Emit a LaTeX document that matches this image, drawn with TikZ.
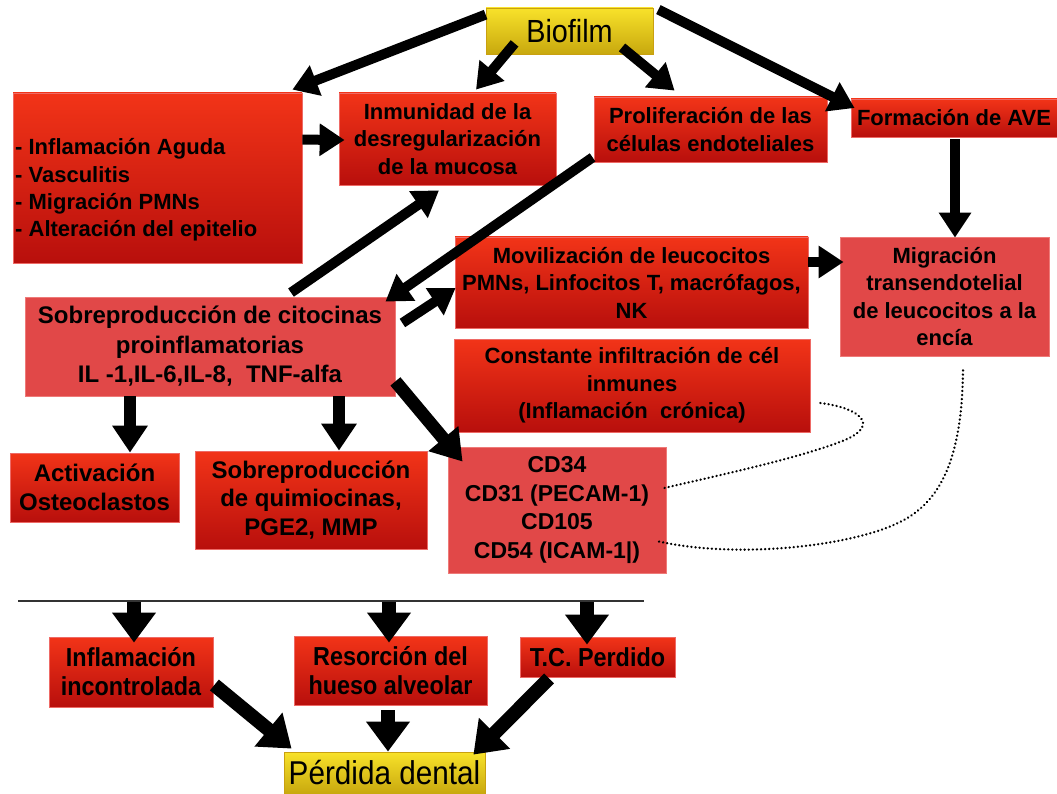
\documentclass[tikz,border=0pt]{standalone}
\usepackage{fontspec}
\setmainfont{Liberation Sans}
\newfontfamily\narrowfont[FakeStretch=0.9]{Liberation Sans}
\usetikzlibrary{arrows.meta,calc}
\definecolor{rtop}{HTML}{F23418}
\definecolor{rbot}{HTML}{B80F0C}
\definecolor{rline}{HTML}{EE6A66}
\definecolor{lred}{HTML}{E14848}
\definecolor{lline}{HTML}{EE7A78}
\definecolor{ytop}{HTML}{F8E22A}
\definecolor{ybot}{HTML}{C8A80E}
\definecolor{yline}{HTML}{C9A010}
\tikzset{
  redbox/.style={draw=rline, line width=0.8pt, top color=rtop, bottom color=rbot, inner sep=0pt, align=center, font=\bfseries\fontsize{22}{27.5}\selectfont},
  lightbox/.style={draw=lline, line width=0.8pt, fill=lred, inner sep=0pt, align=center, font=\bfseries\fontsize{22}{27.5}\selectfont},
  ybox/.style={draw=yline, line width=0.8pt, top color=ytop, bottom color=ybot, inner sep=0pt, align=center, font=\narrowfont\fontsize{32}{36}\selectfont},
  lowbox/.style={redbox, font=\narrowfont\bfseries\fontsize{26}{29}\selectfont},
  arr/.style={line width=10pt, -{Triangle[length=25pt,width=31pt]}},
  arrv/.style={line width=11.5pt, -{Triangle[length=27pt,width=34pt]}},
  arrbig/.style={line width=13pt, -{Triangle[length=30pt,width=37pt]}},
  arrb/.style={line width=14pt, -{Triangle[length=30pt,width=42pt]}},
  dots/.style={line width=2.5pt, line cap=round, dash pattern=on 0.1pt off 4pt, black}
}
\begin{document}
\begin{tikzpicture}[x=1pt,y=-1pt]
\useasboundingbox (0,0) rectangle (1057,794);
\fill[white] (0,0) rectangle (1057,794);

% boxes
\node[ybox, minimum width=167pt, minimum height=46pt] (bio) at (569.5,31) {Biofilm};
\node[redbox, minimum width=289pt, minimum height=170pt] (A) at (157.5,178) {};
\node[inner sep=0pt, anchor=west, align=left, font=\bfseries\fontsize{22}{27.3}\selectfont] (Atxt) at (15,190)
  {- Inflamación Aguda\\- Vasculitis\\- Migración PMNs\\- Alteración del epitelio};
\node[redbox, minimum width=217pt, minimum height=92pt] (B) at (447.5,139) {Inmunidad de la\\desregularización\\de la mucosa};
\node[redbox, minimum width=233pt, minimum height=65pt] (C) at (710.5,129.5) {Proliferación de las\\células endoteliales};
\node[redbox, minimum width=206pt, minimum height=38pt] (D) at (954,118) {Formación de AVE};
\node[lightbox, minimum width=209pt, minimum height=119pt] (E) at (944.5,296.5) {Migración\\transendotelial\\de leucocitos a la\\encía};
\node[redbox, minimum width=353pt, minimum height=91pt] (F) at (631.5,282.5) {Movilización de leucocitos\\PMNs, Linfocitos T, macrófagos,\\NK};
\node[redbox, minimum width=356pt, minimum height=93pt] (G) at (632,385.5) {Constante infiltración de cél\\inmunes\\(Inflamación\ \ crónica)};
\node[lightbox, minimum width=218pt, minimum height=126pt, font=\bfseries\fontsize{23}{28.7}\selectfont] (H) at (557,510) {CD34\\CD31 (PECAM-1)\\CD105\\CD54 (ICAM-1|)};
\node[lightbox, minimum width=370pt, minimum height=99pt, font=\bfseries\fontsize{24}{29.5}\selectfont] (I) at (210,346.5) {Sobreproducción de citocinas\\proinflamatorias\\IL -1,IL-6,IL-8,\ \ TNF-alfa};
\node[redbox, minimum width=169pt, minimum height=69pt, font=\bfseries\fontsize{24}{29}\selectfont] (J) at (94.5,487.5) {Activación\\Osteoclastos};
\node[redbox, minimum width=232pt, minimum height=98pt, font=\bfseries\fontsize{24}{28.5}\selectfont] (K) at (311,500) {Sobreproducción\\de quimiocinas,\\PGE2, MMP};
\node[lowbox, minimum width=164pt, minimum height=70pt] (L) at (131,672) {Inflamación\\incontrolada};
\node[lowbox, minimum width=193pt, minimum height=69pt] (M) at (390.5,670.5) {Resorción del\\hueso alveolar};
\node[lowbox, minimum width=155pt, minimum height=40pt] (N) at (597.5,657) {T.C. Perdido};
\node[ybox, minimum width=201pt, minimum height=42pt, font=\narrowfont\fontsize{33}{36}\selectfont] (O) at (384.5,773) {Pérdida dental};

% separator line
\coordinate (lnL) at (18,601);
\coordinate (lnR) at (644,601);
\draw[line width=1.2pt, black!80] (lnL) -- (lnR);
\coordinate (l1) at (134,602);
\coordinate (l2) at (389,602);
\coordinate (l3) at (587,602);

% arrows
\draw[arr] ($(bio.north west)+(0,7)$) -- ($(A.north east)+(-10,-3)$);
\draw[arr] ($(bio.south west)+(29,-11)$) -- ($(B.north)+(28.5,-3)$);
\draw[arr] ($(bio.south)+(52.5,-7)$) -- ($(C.north west)+(81,-6)$);
\draw[arr] ($(bio.north east)+(5,2)$) -- ($(D.west)+(4,-10)$);
\draw[arr] ($(A.north east)+(0,47)$) -- ($(B.west)+(6,1)$);
\draw[arr] ($(I.north)+(81,-4)$) -- ($(B.south)+(-8.5,5)$);
\draw[arr] ($(C.south west)+(-1,-5)$) -- ($(I.north east)+(-10,5)$);
\draw[arr] ($(I.east)+(7,-23.5)$) -- ($(F.west)+(1,5.5)$);
\draw[arr] ($(F.east)+(0,-20.5)$) -- ($(E.west)+(4,-34.5)$);
\draw[arr] ($(D.south)+(1,2)$) -- ($(E.north)+(10.5,1)$);
\draw[arrbig] ($(I.south east)+(0,-15)$) -- ($(H.north west)+(15,15)$);
\draw[arrv] ($(I.south)+(-80,0)$) -- ($(J.north)+(35.5,0)$);
\draw[arrv] ($(I.south)+(129,0)$) -- ($(K.north)+(28,0)$);
\draw[arrb] (l1) -- ($(L.north)+(3,6)$);
\draw[arrb] (l2) -- ($(M.north)+(-1.5,7)$);
\draw[arrb] (l3) -- ($(N.north)+(-10.5,8)$);
\draw[arrb] ($(L.east)+(1,13)$) -- ($(O.north west)+(8,-3)$);
\draw[arrb] ($(M.south)+(-2.5,5)$) -- ($(O.north)+(3.5,0)$);
\draw[arrb] ($(N.south)+(-48.5,1)$) -- ($(O.north east)+(-12,3)$);

% dotted curves
\draw[dots] ($(G.east)+(10,17.5)$) .. controls (860,408) and (880,425) .. (845,440) .. controls (800,458) and (720,475) .. ($(H.east)+(-2,-22)$);
\draw[dots] ($(E.south)+(18.5,14)$) .. controls (962,450) and (945,500) .. (900,522) .. controls (855,545) and (740,560) .. ($(H.east)+(-10,31)$);
\end{tikzpicture}
\end{document}
